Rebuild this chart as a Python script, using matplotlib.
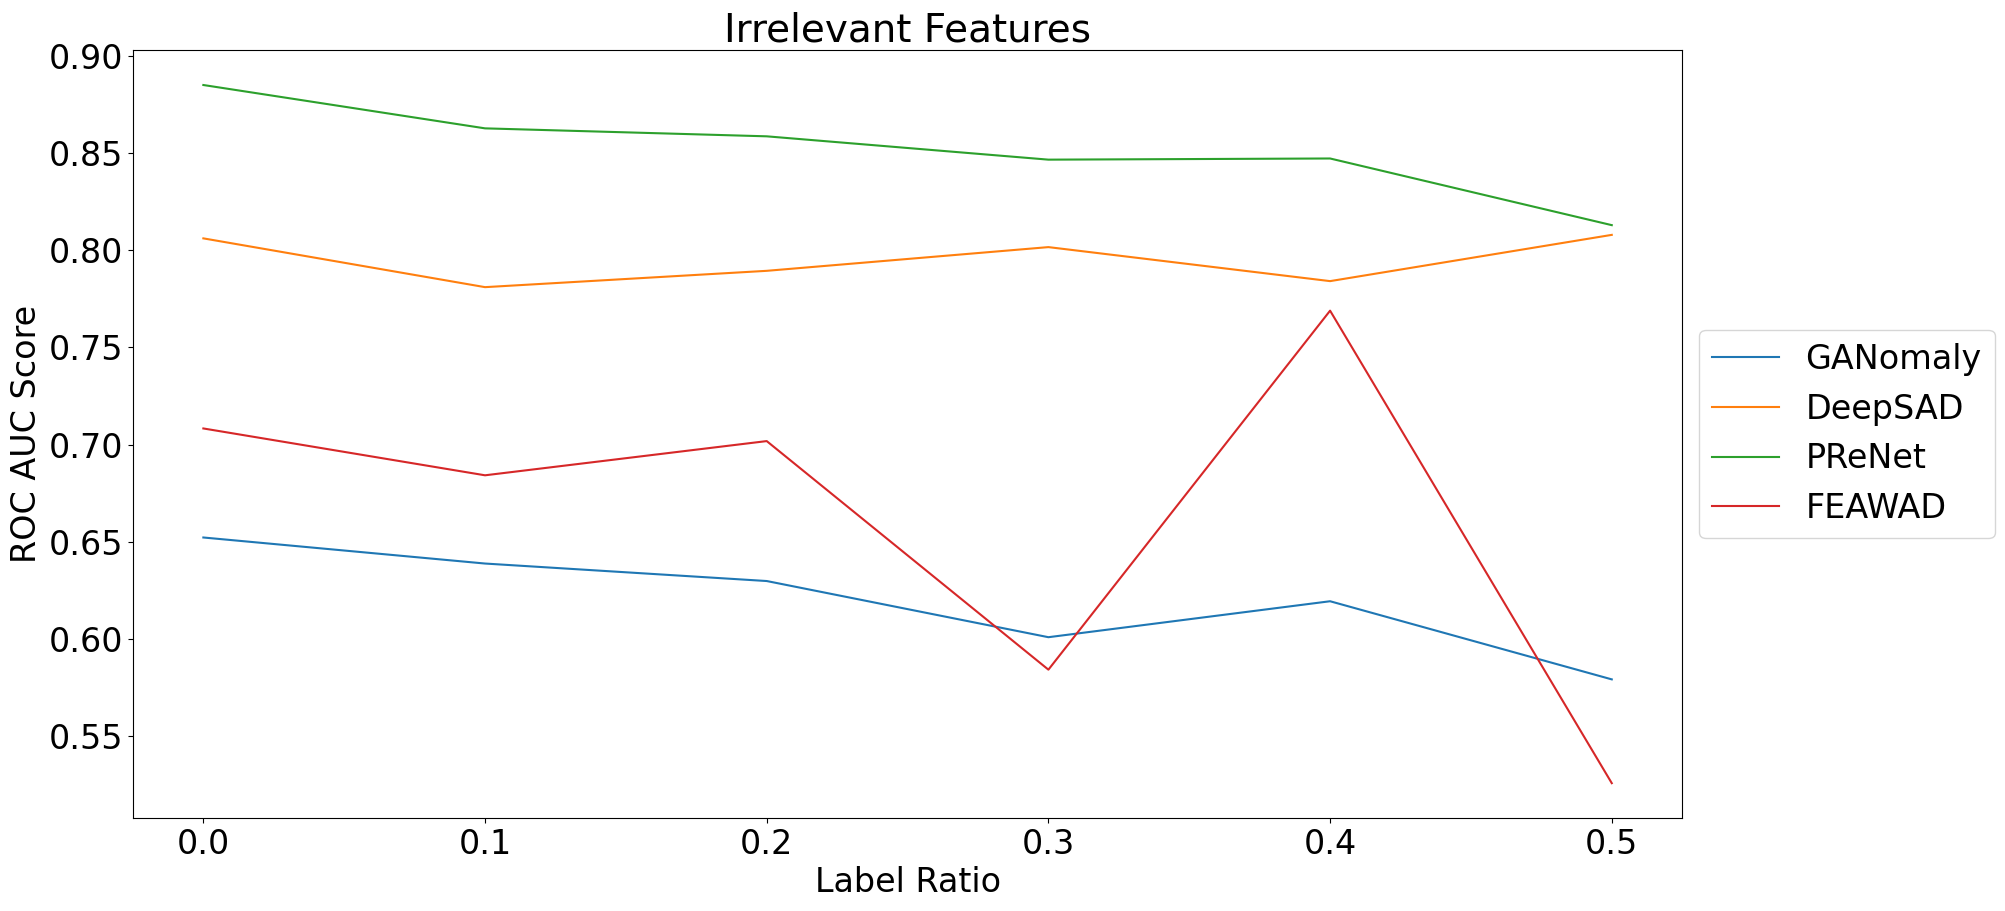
import matplotlib
matplotlib.use('Agg')
import matplotlib.pyplot as plt

label_ratio = [0.0, 0.1, 0.2, 0.3, 0.4, 0.5]

ganomaly = [0.6522, 0.6388, 0.6298, 0.6009, 0.6194, 0.5792]
deepsad = [0.8061, 0.7810, 0.7894, 0.8016, 0.7841, 0.8079]
prenet = [0.8850, 0.8627, 0.8586, 0.8466, 0.8472, 0.8129]
feawad = [0.7083, 0.6842, 0.7018, 0.5842, 0.7689, 0.5258]

models = ['GANomaly', 'DeepSAD', 'PReNet', 'FEAWAD']
series = [ganomaly, deepsad, prenet, feawad]

fig = plt.figure(figsize=(20.05, 9.11), dpi=100)
ax = fig.add_axes([0.0663, 0.102, 0.7727, 0.843])

for name, vals in zip(models, series):
    ax.plot(label_ratio, vals, label=name)

ax.set_title('Irrelevant Features', fontsize=28)
ax.set_xlabel('Label Ratio', fontsize=24)
ax.set_ylabel('ROC AUC Score', fontsize=24)
ax.tick_params(labelsize=24)
ax.legend(loc='center left', bbox_to_anchor=(1, 0.5), fontsize=24)

fig.savefig('out.png', dpi=100)
